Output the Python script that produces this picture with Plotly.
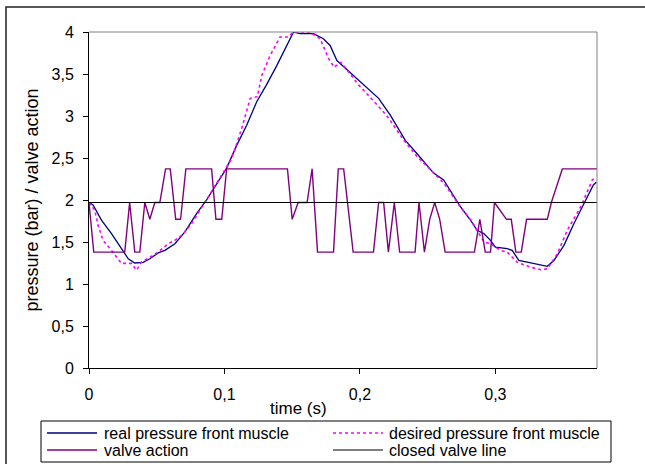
import plotly.graph_objects as go

# ---- data ----
real_t = [0, .003, .0092, .0166, .024, .029, .0338, .040, .0449, .0511, .056, .0634, .0708,
          .0795, .0868, .0937, .1016, .109, .1164, .1238, .131, .1386, .1447, .151, .156, .1657,
          .173, .178, .183, .194, .2027, .2138, .2224, .2335, .2422, .2544, .2618, .2742, .2816,
          .2865, .2914, .2964, .300, .3087, .3124, .3173, .3235, .3383, .3432, .3506, .358,
          .3654, .3723, .3745]
real_p = [1.97, 1.94, 1.76, 1.60, 1.42, 1.30, 1.25, 1.257, 1.30, 1.37, 1.40, 1.48, 1.62,
          1.84, 2.00, 2.18, 2.38, 2.65, 2.89, 3.17, 3.37, 3.60, 3.80, 4.0, 3.98, 3.98,
          3.92, 3.84, 3.66, 3.50, 3.37, 3.21, 3.01, 2.71, 2.55, 2.32, 2.24, 1.92, 1.76,
          1.64, 1.60, 1.52, 1.44, 1.42, 1.40, 1.28, 1.26, 1.21, 1.28, 1.46, 1.72,
          1.96, 2.18, 2.21]

des_t = [0, .0042, .0067, .0104, .0166, .0214, .024, .0314, .035, .0388, .045, .0511, .0585,
         .0634, .0683, .075, .082, .089, .096, .1053, .1127, .119, .1243, .1275, .1337, .141,
         .147, .151, .163, .1706, .177, .181, .186, .190, .199, .2089, .220, .232, .242, .254,
         .262, .2735, .282, .2916, .2964, .3038, .3087, .316, .326, .3334, .3383, .3457,
         .3531, .363, .3716, .3745]
des_p = [1.97, 1.88, 1.70, 1.52, 1.40, 1.30, 1.245, 1.245, 1.165, 1.26, 1.32, 1.38, 1.48,
         1.52, 1.58, 1.70, 1.88, 2.06, 2.24, 2.49, 2.85, 3.21, 3.23, 3.48, 3.72, 3.94,
         3.94, 4.0, 4.0, 3.92, 3.68, 3.58, 3.64, 3.56, 3.37, 3.20, 3.00, 2.72, 2.52, 2.33,
         2.20, 1.93, 1.76, 1.50, 1.48, 1.40, 1.38, 1.26, 1.20, 1.17, 1.18, 1.36,
         1.64, 1.92, 2.24, 2.27]

valve_t = [0, .0035, .0264, .030, .0338, .0375, .0412, .0449, .0486, .0523, .0565, .060, .064,
           .0676, .0715, .0905, .0937, .098, .1016, .1465, .150, .1544, .161, .1647, .1687,
           .1805, .184, .188, .195, .210, .2138, .2175, .221, .2254, .2293, .2407, .2436,
           .2476, .2515, .2552, .2589, .2629, .2845, .2885, .2925, .2964, .2993, .3082,
           .3117, .3151, .3191, .323, .3383, .3413, .3494, .375]
valve_v = [1.97, 1.38, 1.38, 1.97, 1.38, 1.38, 1.97, 1.77, 1.97, 1.97, 2.37, 2.37, 1.77,
           1.77, 2.37, 2.37, 1.77, 1.77, 2.37, 2.37, 1.77, 1.97, 1.97, 2.37, 1.38,
           1.38, 2.37, 2.37, 1.38, 1.38, 1.97, 1.97, 1.38, 1.97, 1.38, 1.38, 1.97,
           1.38, 1.77, 1.97, 1.77, 1.38, 1.38, 1.77, 1.38, 1.38, 1.97, 1.77,
           1.77, 1.38, 1.38, 1.77, 1.77, 1.97, 2.37, 2.37]

closed_t = [0, 0.375]
closed_v = [1.97, 1.97]

x_ticks = [0, 0.1, 0.2, 0.3]
x_ticktext = ["0", "0,1", "0,2", "0,3"]
y_ticks = [0, 0.5, 1, 1.5, 2, 2.5, 3, 3.5, 4]
y_ticktext = ["0", "0,5", "1", "1,5", "2", "2,5", "3", "3,5", "4"]

series_names = ["real pressure front muscle", "desired pressure front muscle",
                "valve action", "closed valve line"]
series_colors = ["#000080", "#FF00FF", "#800080", "#000000"]
series_dash = ["solid", "dot", "solid", "solid"]
series_width = [1.3, 1.6, 1.4, 1.2]

FONT = "Liberation Sans, Arial, sans-serif"

fig = go.Figure()
for xs, ys, nm, c, d, w in zip([real_t, des_t, valve_t, closed_t],
                               [real_p, des_p, valve_v, closed_v],
                               series_names, series_colors, series_dash, series_width):
    fig.add_trace(go.Scatter(x=xs, y=ys, mode="lines", name=nm,
                             line=dict(color=c, width=w, dash=d)))

# ---- legend drawn as a box with sample lines and text (two columns) ----
PL, PT, PW, PH = 89, 32, 508, 336   # plot area in pixels


def px_x(p):
    return (p - PL) / PW


def px_y(p):
    return (PT + PH - p) / PH


legend_cols = [(47, 97, 103), (333, 383, 388)]
legend_rows = [433, 450]
shapes = [
    dict(type="line", xref="paper", yref="paper", x0=0, x1=1, y0=1, y1=1,
         line=dict(color="#808080", width=1)),
    dict(type="line", xref="paper", yref="paper", x0=1, x1=1, y0=0, y1=1,
         line=dict(color="#808080", width=1)),
    dict(type="rect", xref="paper", yref="paper", x0=px_x(6), x1=px_x(700), y0=px_y(520),
         y1=px_y(7), line=dict(color="#222222", width=1.5), fillcolor="rgba(0,0,0,0)",
         layer="below"),
    dict(type="rect", xref="paper", yref="paper", x0=px_x(41), x1=px_x(611), y0=px_y(462),
         y1=px_y(421), line=dict(color="#000000", width=1), fillcolor="white"),
]
annotations = [
    dict(xref="paper", yref="paper", x=px_x(298), y=px_y(408), xanchor="center",
         yanchor="middle", showarrow=False, text="time (s)",
         font=dict(family=FONT, size=17), borderpad=0),
]
order = [(0, 0, 0), (1, 0, 1), (2, 1, 0), (3, 1, 1)]  # (trace, row, col)
for i, r, c in order:
    x0, x1, xt = legend_cols[c]
    yy = legend_rows[r]
    shapes.append(dict(type="line", xref="paper", yref="paper", x0=px_x(x0), x1=px_x(x1),
                       y0=px_y(yy), y1=px_y(yy),
                       line=dict(color=series_colors[i], width=series_width[i],
                                 dash=series_dash[i])))
    annotations.append(dict(xref="paper", yref="paper", x=px_x(xt), y=px_y(yy),
                            xanchor="left", yanchor="middle", showarrow=False,
                            text=series_names[i], font=dict(family=FONT, size=16),
                            borderpad=0))

fig.update_layout(
    width=645, height=464,
    margin=dict(l=PL, r=645 - PL - PW, t=PT, b=464 - PT - PH, autoexpand=False),
    paper_bgcolor="white", plot_bgcolor="white",
    font=dict(family=FONT, size=15, color="black"),
    showlegend=False,
    xaxis=dict(range=[0, 0.375], tickvals=x_ticks, ticktext=x_ticktext,
               showgrid=False, zeroline=False, showline=True, linecolor="black", linewidth=1,
               ticks="outside", ticklen=5, tickcolor="black", ticklabelstandoff=7,
               tickfont=dict(size=16)),
    yaxis=dict(range=[0, 4], tickvals=y_ticks, ticktext=y_ticktext,
               showgrid=False, zeroline=False, showline=True, linecolor="black", linewidth=1,
               ticks="outside", ticklen=5, tickcolor="black", ticklabelstandoff=6,
               tickfont=dict(size=16),
               title=dict(text="pressure (bar) / valve action", font=dict(size=18), standoff=8)),
    shapes=shapes,
    annotations=annotations,
)

fig.write_html("out.html")
